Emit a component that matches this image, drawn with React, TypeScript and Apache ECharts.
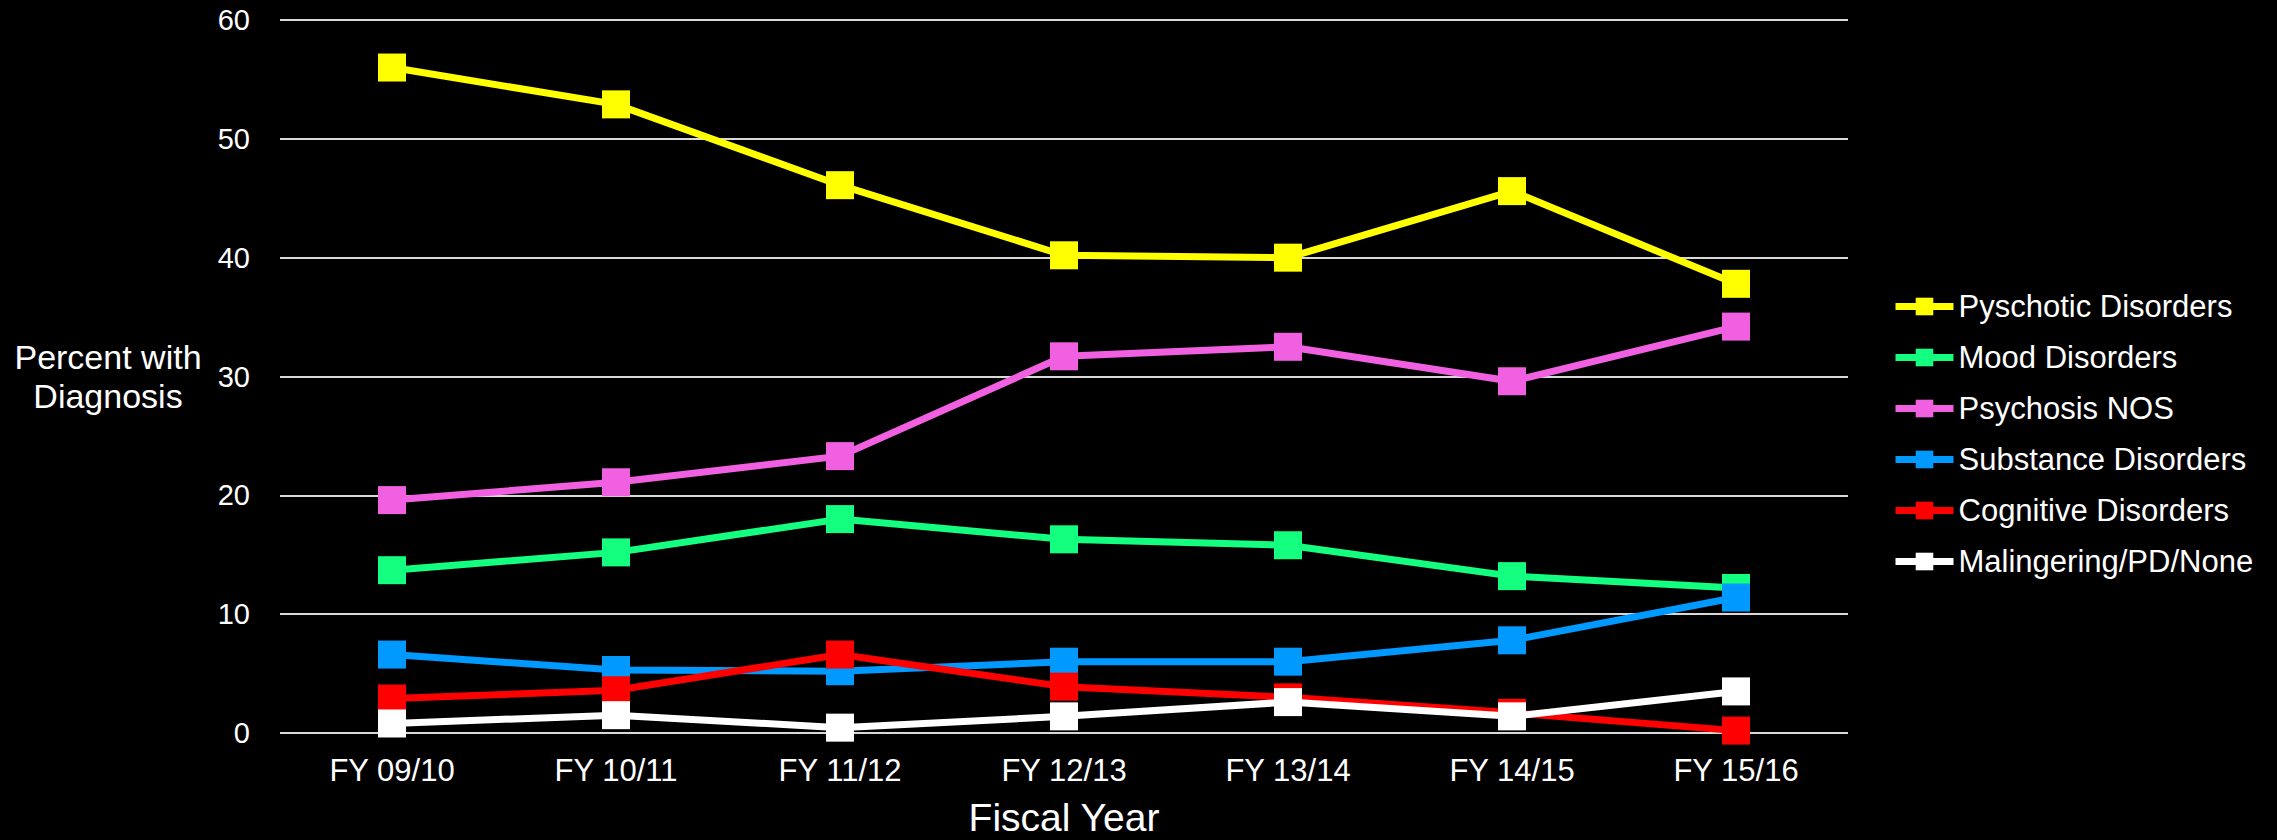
import React, { useEffect, useRef } from "react";
import * as echarts from "echarts";

const categories = ["FY 09/10", "FY 10/11", "FY 11/12", "FY 12/13", "FY 13/14", "FY 14/15", "FY 15/16"];
const seriesNames = [
  "Pyschotic Disorders",
  "Mood Disorders",
  "Psychosis NOS",
  "Substance Disorders",
  "Cognitive Disorders",
  "Malingering/PD/None",
];
const pyschotic = [56.0, 52.9, 46.1, 40.2, 40.0, 45.6, 37.8];
const mood = [13.7, 15.2, 18.0, 16.3, 15.8, 13.2, 12.2];
const psychosisNOS = [19.6, 21.1, 23.3, 31.7, 32.5, 29.6, 34.2];
const substance = [6.6, 5.3, 5.2, 6.0, 6.0, 7.8, 11.4];
const cognitive = [2.9, 3.6, 6.6, 3.9, 3.0, 1.7, 0.2];
const malingering = [0.8, 1.5, 0.45, 1.4, 2.6, 1.4, 3.5];
const seriesColors = ["#FFFF00", "#14FF80", "#F060E0", "#0099FF", "#FF0000", "#FFFFFF"];

const FONT = "'Liberation Sans', Arial, sans-serif";

export default function App() {
  const ref = useRef<HTMLDivElement>(null);
  useEffect(() => {
    if (!ref.current) return;
    const chart = echarts.init(ref.current, null, { renderer: "svg" });
    const allData = [pyschotic, mood, psychosisNOS, substance, cognitive, malingering];
    chart.setOption({
      animation: false,
      backgroundColor: "#000000",
      textStyle: { fontFamily: FONT },
      grid: { left: 280, right: 429, top: 20, bottom: 107, containLabel: false, outerBoundsMode: "none" },
      legend: {
        orient: "vertical",
        left: 1887,
        top: 286,
        itemWidth: 58,
        itemHeight: 22,
        itemGap: 20,
        data: seriesNames,
        textStyle: { color: "#ffffff", fontSize: 31, fontFamily: FONT, lineHeight: 30 },
        lineStyle: { width: 7 },
      },
      xAxis: {
        type: "category",
        data: categories,
        boundaryGap: true,
        axisLine: { show: false },
        axisTick: { show: false },
        axisLabel: { color: "#ffffff", fontSize: 31, margin: 22, fontFamily: FONT },
        name: "Fiscal Year",
        nameLocation: "middle",
        nameGap: 65,
        nameTextStyle: {
          color: "#ffffff",
          fontSize: 39,
          fontFamily: FONT,
          verticalAlign: "top",
          lineHeight: 38,
        },
      },
      yAxis: {
        type: "value",
        min: 0,
        max: 60,
        interval: 10,
        axisLine: { show: false },
        axisTick: { show: false },
        axisLabel: { color: "#ffffff", fontSize: 29, margin: 30, fontFamily: FONT },
        splitLine: { show: true, lineStyle: { color: "#d9d9d9", width: 2 } },
        name: "Percent with\nDiagnosis",
        nameLocation: "middle",
        nameRotate: 0,
        nameGap: 172,
        nameTextStyle: {
          color: "#ffffff",
          fontSize: 34,
          fontFamily: FONT,
          align: "center",
          verticalAlign: "middle",
          lineHeight: 39,
        },
      },
      series: seriesNames.map((name, i) => ({
        name,
        type: "line",
        data: allData[i],
        symbol: "rect",
        symbolSize: 28,
        showSymbol: true,
        color: seriesColors[i],
        lineStyle: { color: seriesColors[i], width: 7 },
        itemStyle: { color: seriesColors[i] },
        z: 2 + i,
      })),
    });
    return () => chart.dispose();
  }, []);
  return (
    <div
      ref={ref}
      style={{ position: "absolute", left: 0, top: 0, width: 2277, height: 840, background: "#000" }}
    />
  );
}
